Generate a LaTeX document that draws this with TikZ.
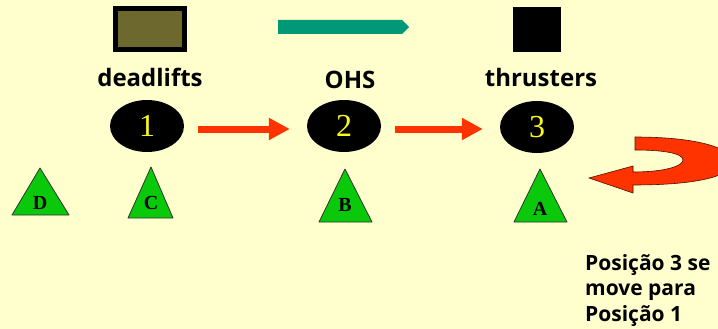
\documentclass[tikz,border=0pt]{standalone}
\usepackage{fontspec}
\setmainfont{Open Sans}
\newfontfamily\tnr{Liberation Serif}
\usetikzlibrary{arrows.meta,shapes.geometric}
\definecolor{bg}{RGB}{255,255,206}
\definecolor{olive}{RGB}{108,104,46}
\definecolor{teal}{RGB}{0,152,118}
\definecolor{redarr}{RGB}{255,51,0}
\definecolor{trigreen}{RGB}{10,200,10}
\definecolor{numyellow}{RGB}{250,250,20}
\begin{document}
\begin{tikzpicture}[x=1pt,y=-1pt,
  lbl/.style={font=\bfseries\fontsize{24}{28}\selectfont, text=black, anchor=base, inner sep=0pt},
  posnode/.style={ellipse, fill=black, minimum width=74pt, minimum height=52pt, inner sep=0pt,
    text=numyellow, font=\tnr\fontsize{32}{34}\selectfont},
  tri/.style={fill=trigreen, draw=black!80, line width=0.8pt, line join=round},
  trilbl/.style={font=\tnr\bfseries\fontsize{20}{20}\selectfont, inner sep=0pt},
  flow/.style={draw=redarr, line width=7pt, -{Triangle[width=21pt,length=21pt]}, shorten <=14pt, shorten >=17pt},
  note/.style={font=\bfseries\fontsize{21}{25.5}\selectfont, align=left, anchor=north west, inner sep=0pt}
]
\useasboundingbox (0,0) rectangle (718,329);
\fill[bg] (0,0) rectangle (718,329);
\begin{scope}
\clip (0,0) rectangle (718,329);
% top symbols
\draw[fill=olive, line width=5pt] (115.5,8.5) rectangle (184.5,49.5);
\fill[teal] (278,20) -- (402,20) -- (409,27) -- (402,34) -- (278,34) -- cycle;
\fill[black] (513,7) rectangle (561,52);

% labels
\node[lbl] (lab1) at (150,87) {deadlifts};
\node[lbl] (lab2) at (350,88.5) {OHS};
\node[lbl] (lab3) at (541,87) {thrusters};

% positions
\node[posnode] (p1) at (147,126) {1};
\node[posnode] (p2) at (344,126) {2};
\node[posnode] (p3) at (537,127) {3};

\draw[flow] ([yshift=-3pt]p1.east) -- ([yshift=-3pt]p2.west);
\draw[flow] ([yshift=-3pt]p2.east) -- ([yshift=-2pt]p3.west);

% triangles
\draw[tri] (12,215) -- (40,168) -- (69,215) -- cycle;
\node[trilbl] (tD) at (40,203) {D};
\draw[tri] (128,218) -- (151,167) -- (173,218) -- cycle;
\node[trilbl] (tC) at (151,203) {C};
\draw[tri] (319,222) -- (345,169) -- (372,222) -- cycle;
\node[trilbl] (tB) at (345,205) {B};
\draw[tri] (514,222) -- (540,169) -- (567,222) -- cycle;
\node[trilbl] (tA) at (540,209) {A};

% curved return arrow
\draw[fill=redarr, draw=black!70!redarr, line width=0.6pt, line join=miter]
  (589,178) -- (633,166) -- (633,172)
  .. controls (665,172) and (683,166) .. (683,160)
  .. controls (683,153) and (662,150) .. (635,150)
  -- (635,137)
  .. controls (690,137) and (732,146) .. (732,162)
  .. controls (732,178) and (690,185) .. (633,185)
  -- (633,193) -- cycle;

\node[note] (txt) at (585,254) {Posição 3 se\\move para\\Posição 1};
\end{scope}
\end{tikzpicture}
\end{document}
